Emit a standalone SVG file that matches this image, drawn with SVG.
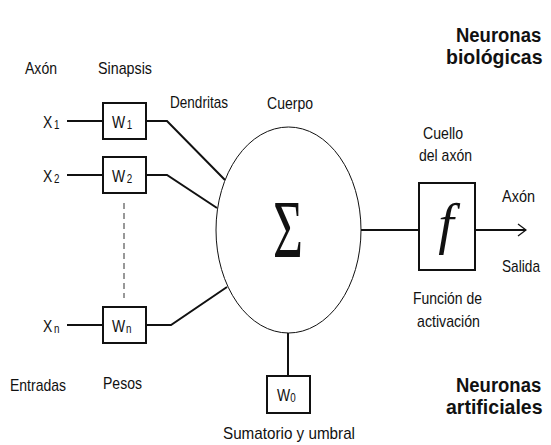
<svg xmlns="http://www.w3.org/2000/svg" width="551" height="445" viewBox="0 0 551 445">
<style>
.t{font-family:"Liberation Sans",Arial,sans-serif;font-size:17px;fill:#111}
.b{font-family:"Liberation Sans",Arial,sans-serif;font-size:21px;font-weight:bold;fill:#111}
.sub{font-size:12px}
.box{fill:#fff;stroke:#111;stroke-width:2}
.ln{fill:none;stroke:#111;stroke-width:2}
</style>
<defs>
<marker id="arr" viewBox="0 0 10 14" refX="9" refY="7" markerWidth="10" markerHeight="14" markerUnits="userSpaceOnUse" orient="auto">
<path d="M1,1 L9,7 L1,13" fill="none" stroke="#111" stroke-width="1.3"/>
</marker>
</defs>
<rect width="551" height="445" fill="#fff"/>
<g id="connectors">
<line class="ln" x1="67" y1="121" x2="103" y2="121"/>
<line class="ln" x1="67" y1="175" x2="103" y2="175"/>
<line class="ln" x1="67" y1="325" x2="103" y2="325"/>
<polyline class="ln" points="146,121 167,121 225,180"/>
<polyline class="ln" points="146,175 167,175 217,208"/>
<polyline class="ln" points="146,325 171,325 227,287"/>
<line x1="124" y1="203" x2="124" y2="298" stroke="#333" stroke-width="1" stroke-dasharray="6,4"/>
<line class="ln" x1="361" y1="230" x2="419" y2="230"/>
<line class="ln" x1="475" y1="230" x2="526" y2="230" marker-end="url(#arr)"/>
<line class="ln" x1="288" y1="333" x2="288" y2="376"/>
</g>
<g id="soma">
<ellipse cx="288.5" cy="230" rx="72.5" ry="103" fill="#fff" stroke="#111" stroke-width="1"/>
<text transform="translate(288,257) scale(0.62,1)" text-anchor="middle" font-family="Liberation Serif,Times New Roman,serif" font-size="83" fill="#111">Σ</text>
</g>
<g id="w1"><rect class="box" x="103" y="103" width="43" height="36"/><text class="t" transform="translate(112,128) scale(0.82,1)">W<tspan class="sub" dx="2" dy="1">1</tspan></text></g>
<g id="w2"><rect class="box" x="103" y="157" width="43" height="36"/><text class="t" transform="translate(112,182) scale(0.82,1)">W<tspan class="sub" dx="2" dy="1">2</tspan></text></g>
<g id="wn"><rect class="box" x="103" y="307" width="43" height="36"/><text class="t" transform="translate(112,332) scale(0.82,1)">W<tspan class="sub" dx="1" dy="1">n</tspan></text></g>
<g id="w0"><rect class="box" x="267" y="376" width="43" height="37"/><text class="t" transform="translate(277,401) scale(0.82,1)">W<tspan class="sub" dx="0" dy="1">0</tspan></text></g>
<g id="f"><rect class="box" x="419" y="183" width="56" height="87"/><text x="446" y="243" text-anchor="middle" font-family="Liberation Serif,Times New Roman,serif" font-style="italic" font-size="56" fill="#111">f</text></g>
<g id="x1"><text class="t" transform="translate(43,128) scale(0.82,1)">X<tspan class="sub" dx="2" dy="1">1</tspan></text></g>
<g id="x2"><text class="t" transform="translate(43,182) scale(0.82,1)">X<tspan class="sub" dx="2" dy="1">2</tspan></text></g>
<g id="xn"><text class="t" transform="translate(43,332) scale(0.82,1)">X<tspan class="sub" dx="2" dy="1">n</tspan></text></g>
<g id="labels">
<text class="t" x="25" y="74" textLength="32" lengthAdjust="spacingAndGlyphs">Axón</text>
<text class="t" x="98" y="74" textLength="54" lengthAdjust="spacingAndGlyphs">Sinapsis</text>
<text class="t" x="170" y="108" textLength="58" lengthAdjust="spacingAndGlyphs">Dendritas</text>
<text class="t" x="267" y="109" textLength="46" lengthAdjust="spacingAndGlyphs">Cuerpo</text>
<text class="t" x="423" y="139" textLength="40" lengthAdjust="spacingAndGlyphs">Cuello</text>
<text class="t" x="419" y="161" textLength="53" lengthAdjust="spacingAndGlyphs">del axón</text>
<text class="t" x="502" y="202" textLength="33" lengthAdjust="spacingAndGlyphs">Axón</text>
<text class="t" x="502" y="272" textLength="38" lengthAdjust="spacingAndGlyphs">Salida</text>
<text class="t" x="413" y="304" textLength="69" lengthAdjust="spacingAndGlyphs">Función de</text>
<text class="t" x="417" y="327" textLength="63" lengthAdjust="spacingAndGlyphs">activación</text>
<text class="t" x="223" y="439" textLength="132" lengthAdjust="spacingAndGlyphs">Sumatorio y umbral</text>
<text class="t" x="10" y="391" textLength="56" lengthAdjust="spacingAndGlyphs">Entradas</text>
<text class="t" x="103" y="389" textLength="39" lengthAdjust="spacingAndGlyphs">Pesos</text>
<text class="b" transform="translate(456,42) scale(0.88,1)">Neuronas</text>
<text class="b" transform="translate(446,64) scale(0.93,1)">biológicas</text>
<text class="b" transform="translate(456,392) scale(0.88,1)">Neuronas</text>
<text class="b" transform="translate(446,414) scale(0.93,1)">artificiales</text>
</g>
</svg>
